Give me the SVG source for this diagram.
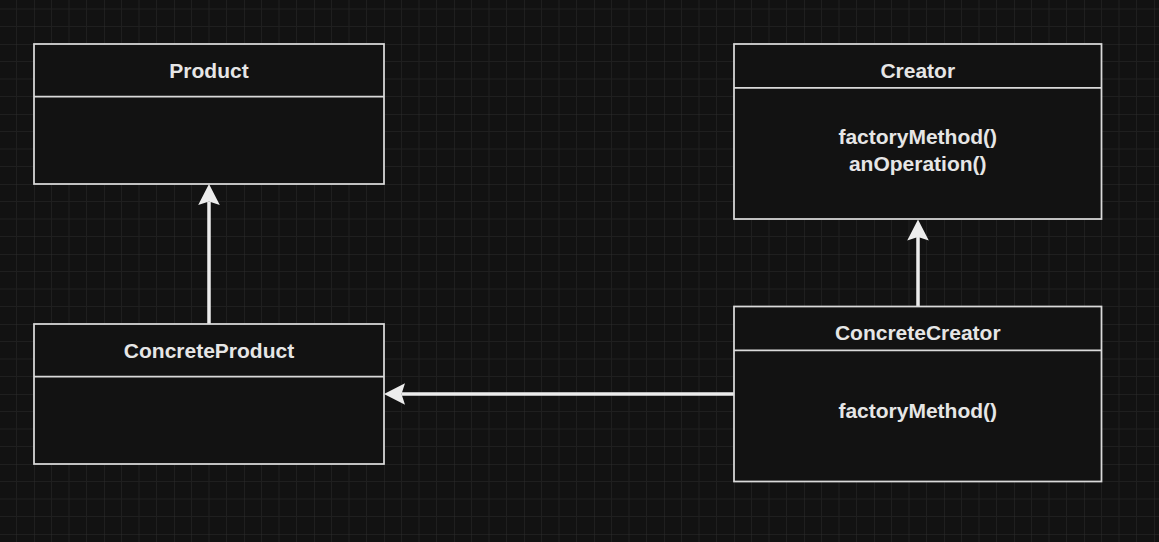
<svg xmlns="http://www.w3.org/2000/svg" width="1159" height="542" viewBox="0 0 1159 542">
  <defs>
    <!-- canvas grid: minor lines every 17.5px, major every 70px -->
    <pattern id="grid" patternUnits="userSpaceOnUse" x="34" y="44" width="70" height="70">
      <path d="M17.5 0V70M35 0V70M52.5 0V70M0 17.5H70M0 35H70M0 52.5H70" stroke="#1f1f1f" stroke-width="1" fill="none"/>
      <path d="M0 0V70M0 0H70" stroke="#2c2c2c" stroke-width="1" fill="none"/>
    </pattern>
    <marker id="arrow" markerUnits="userSpaceOnUse" markerWidth="22" markerHeight="24" viewBox="0 -12 22 24" refX="3.5" refY="0" orient="auto">
      <path d="M0 -10.8L21 0L0 10.8L3.5 0Z" fill="#ececec"/>
    </marker>
    <style>
      .box { fill: #121212; stroke: #dadada; stroke-width: 1.75; }
      .sep { stroke: #dadada; stroke-width: 1.75; }
      .lbl { font-family: "Liberation Sans", Arial, sans-serif; font-weight: bold; font-size: 21px; fill: #e6e6e6; text-anchor: middle; }
      .edge { stroke: #ececec; stroke-width: 3.5; fill: none; marker-end: url(#arrow); }
    </style>
  </defs>

  <rect width="1159" height="542" fill="#121212"/>
  <rect width="1159" height="542" fill="url(#grid)"/>

  <g id="connectors">
    <path class="edge" d="M209 324V201.5"/>
    <path class="edge" d="M918 306.5V237"/>
    <path class="edge" d="M734 394H401.5"/>
  </g>

  <g id="product">
    <rect class="box" x="34" y="44" width="350" height="140"/>
    <line class="sep" x1="34" y1="96.5" x2="384" y2="96.5"/>
    <text class="lbl" x="209" y="78">Product</text>
  </g>

  <g id="creator">
    <rect class="box" x="734" y="44" width="367.5" height="175"/>
    <line class="sep" x1="734" y1="87.75" x2="1101.5" y2="87.75"/>
    <text class="lbl" x="917.75" y="78">Creator</text>
    <text class="lbl" x="917.75" y="144">factoryMethod()</text>
    <text class="lbl" x="917.75" y="171">anOperation()</text>
  </g>

  <g id="concrete-product">
    <rect class="box" x="34" y="324" width="350" height="140"/>
    <line class="sep" x1="34" y1="376.5" x2="384" y2="376.5"/>
    <text class="lbl" x="209" y="358">ConcreteProduct</text>
  </g>

  <g id="concrete-creator">
    <rect class="box" x="734" y="306.5" width="367.5" height="175"/>
    <line class="sep" x1="734" y1="350.25" x2="1101.5" y2="350.25"/>
    <text class="lbl" x="917.75" y="340">ConcreteCreator</text>
    <text class="lbl" x="917.75" y="418">factoryMethod()</text>
  </g>
</svg>
